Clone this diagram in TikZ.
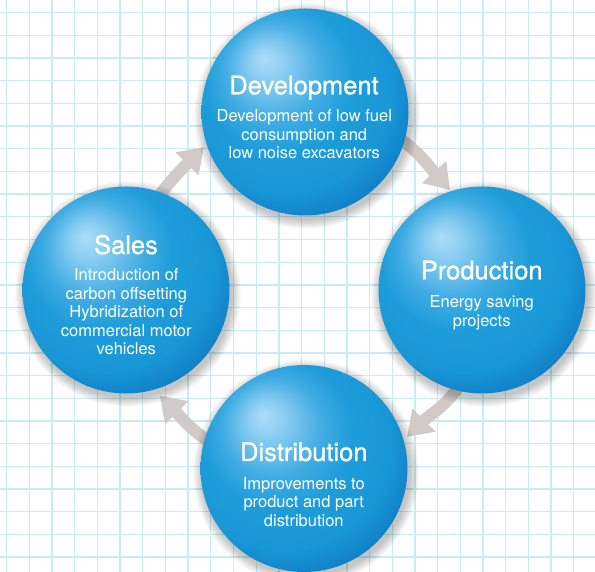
\documentclass[tikz,border=0pt]{standalone}
\usepackage{fontspec}
\setmainfont{TeX Gyre Heros}
\newfontfamily\titlefont[FakeBold=0.9]{TeX Gyre Heros}
\usetikzlibrary{arrows.meta,calc}
\definecolor{gridc}{HTML}{C8ECF1}
\definecolor{arrowc}{HTML}{D1CAC6}
\definecolor{sphA}{HTML}{ACDDF6}
\definecolor{sphB}{HTML}{8ECFF2}
\definecolor{sphC}{HTML}{40ACE3}
\definecolor{sphD}{HTML}{1E9DDA}
\definecolor{sphE}{HTML}{1896D6}
\definecolor{sphF}{HTML}{1181C8}
\pgfdeclareradialshading{spheresh}{\pgfpoint{-10bp}{13bp}}{color(0bp)=(sphA); color(4bp)=(sphB); color(12bp)=(sphC); color(18bp)=(sphD); color(26bp)=(sphE); color(31bp)=(sphF); color(50bp)=(sphF)}
\newcommand{\firstln}{\rule{0pt}{13pt}}
\begin{document}
\begin{tikzpicture}[x=1pt,y=1pt,
  sphere/.style={circle, minimum size=207pt, inner sep=0pt, shading=spheresh},
  titletext/.style={text=white, font=\titlefont\fontsize{25.5}{29}\selectfont, anchor=base, inner sep=0pt},
  bodytext/.style={text=white, font=\fontsize{16.5}{18.5}\selectfont, align=center, anchor=north, inner sep=0pt},
  flow/.style={arrowc, line width=12pt, -{Triangle[width=31pt,length=24pt]}},
  gridline/.style={gridc, line width=1.3pt}]
\useasboundingbox (0,0) rectangle (595,572);
\fill[white] (0,0) rectangle (595,572);
% grid
\foreach \k in {0,...,25} {
  \draw[gridline] ({6.7+22.68*\k},0) -- ({6.7+22.68*\k},572);
}
\foreach \k in {0,...,24} {
  \draw[gridline] (0,{559.3-22.68*\k}) -- (595,{559.3-22.68*\k});
}
% centres
\coordinate (cdev) at (305,460);
\coordinate (csal) at (126,282);
\coordinate (cpro) at (482,282);
\coordinate (cdis) at (304,103.5);
% arrows
\draw[flow] ($(csal)+(74.2:81)$) to[out=57,in=225] ($(cdev)+(199.1:106.9)$);
\draw[flow] ($(cdev)+(-14.3:92.9)$) to[out=-35,in=132] ($(cpro)+(107.7:105)$);
\draw[flow] ($(cpro)+(257.7:94)$) to[out=237,in=45] ($(cdis)+(17:107.7)$);
\draw[flow] ($(cdis)+(167.3:84)$) to[out=150,in=-45] ($(csal)+(-72.3:111)$);
% spheres with soft shadows
\foreach \cx/\cy/\nm in {305/460/dev, 126/282/sal, 482/282/pro, 304/103.5/dis} {
  \foreach \i in {0,...,9} {
    \fill[black, opacity=0.025] (\cx+2,\cy-4) circle ({104+\i});
  }
  \node[sphere] (\nm) at (\cx,\cy) {};
}
% texts
\node[titletext] (devt) at (304,477.7) {Development};
\node[bodytext] (devb) at (304.3,463.3) {\firstln Development of low fuel\\consumption and\\low noise excavators};
\node[titletext] (salt) at (126,318) {Sales};
\node[bodytext] (salb) at (126.3,304.3) {\firstln Introduction of\\carbon offsetting\\Hybridization of\\commercial motor\\vehicles};
\node[titletext] (prot) at (481.7,292.7) {Production};
\node[bodytext] (prob) at (481.7,277.3) {\firstln Energy saving\\projects};
\node[titletext] (dist) at (303.8,111) {Distribution};
\node[bodytext] (disb) at (303.8,95.7) {\firstln Improvements to\\product and part\\distribution};
\end{tikzpicture}
\end{document}
